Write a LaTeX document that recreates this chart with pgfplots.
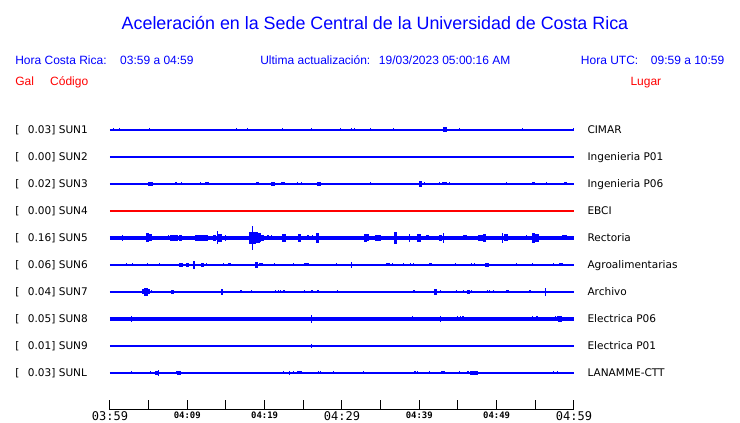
\documentclass[border=0pt]{standalone}
\usepackage{pgfplots}
\pgfplotsset{compat=1.18}
\usepackage{fontspec}
\setmainfont{Liberation Sans}
\newfontfamily\dvs{DejaVu Sans}
\newfontfamily\dvsm{DejaVu Sans Mono}

\definecolor{sblue}{rgb}{0,0,1}
\definecolor{sred}{rgb}{1,0,0}

\newcommand\tbig{\dvsm\fontsize{9}{10}\selectfont}
\newcommand\tsmall{\dvsm\bfseries\fontsize{6.7}{7}\selectfont}

\pgfplotsset{
  base/.style={sblue, line width=0.9pt, forget plot},
  spike/.style={draw=none, mark=none, forget plot,
    error bars/y dir=both, error bars/y explicit, error bars/error mark=none,
    error bars/error bar style={draw=sblue, line width=0.9pt}},
  blob/.style={spike, error bars/error bar style={draw=sblue, line width=2.4pt}},
}
\tikzset{
  lbl/.style={anchor=base west, inner sep=0pt, font=\dvs\fontsize{7.9}{9}\selectfont},
  hdr/.style={anchor=base west, inner sep=0pt, sblue, font=\fontsize{9}{10}\selectfont},
}

\begin{document}
\begin{tikzpicture}
\begin{axis}[
  scale only axis,
  width=348pt, height=307.5pt,
  xmin=0, xmax=60,
  ymin=0, ymax=410,
  axis x line*=bottom,
  axis y line=none,
  axis line style={black, line width=0.75pt},
  xtick={0,5,...,60},
  xticklabels={{\tbig 03:59},{},{\tsmall 04:09},{},{\tsmall 04:19},{},{\tbig 04:29},{},{\tsmall 04:39},{},{\tsmall 04:49},{},{\tbig 04:59}},
  tick align=inside,
  major tick length=7.5pt,
  tick style={black, line width=0.75pt},
  xticklabel style={anchor=north, inner sep=1pt},
  clip=false,
]

% page frame
\path (axis cs:-14.22,-13) rectangle (axis cs:81.47,410);

% ---- SUN1 CIMAR
\addplot[base] coordinates {(0,280) (60,280)};
\addplot[spike] coordinates {
(0.43,280) +- (0,1.5) (1.20,280) +- (0,1.5) (5.08,280) +- (0,1.5) (10.90,280) +- (0,1)
(16.33,280) +- (0,1.5) (17.75,280) +- (0,1.5) (22.28,280) +- (0,1.5) (22.93,280) +- (0,1)
(26.03,280) +- (0,1.5) (29.83,280) +- (0,1.5) (31.20,280) +- (0,1.5) (31.59,280) +- (0,1.5)
(33.66,280) +- (0,1.5) (36.63,280) +- (0,1.5) (39.09,280) +- (0,1) (45.17,280) +- (0,1.5)
(53.31,280) +- (0,1.5) (59.96,280) +- (0,1.5)
};
\addplot[blob] coordinates {(43.32,280) +- (0,2.5)};

% ---- SUN2 Ingenieria P01
\addplot[base] coordinates {(0,253) (60,253)};

% ---- SUN3 Ingenieria P06
\addplot[base] coordinates {(0,226) (60,226)};
\addplot[spike] coordinates {
(4.95,226) +- (0,1.7) (8.53,226) +- (0,1.5) (9.22,226) +- (0,1.5) (11.68,226) +- (0,1.5)
(20.78,226) +- (0,1) (22.24,226) +- (0,1.5) (22.50,226) +- (0,1.5) (24.27,226) +- (0,1.5)
(24.74,226) +- (0,1.5) (26.16,226) +- (0,1) (26.81,226) +- (0,1.7) (33.66,226) +- (0,1.5)
(37.28,226) +- (0,1) (40.64,226) +- (0,1.5) (42.63,226) +- (0,1.5) (42.97,226) +- (0,1.5)
(43.87,226) +- (0,1.5) (51.25,226) +- (0,1.5) (55.44,226) +- (0,1) (55.95,226) +- (0,1)
(56.47,226) +- (0,1.5) (59.96,226) +- (0,1)
};
\addplot[blob] coordinates {
(5.30,226) +- (0,1.7) (12.54,226) +- (0,1.5) (19.05,226) +- (0,1.5) (21.08,226) +- (0,1.7)
(25.09,226) +- (0,1.2) (27.03,226) +- (0,2.3) (40.18,226) +- (0,2.7) (43.32,226) +- (0,1.5)
(54.74,226) +- (0,1.5) (58.93,226) +- (0,1.5)
};

% ---- SUN4 EBCI
\addplot[base, sred] coordinates {(0,199) (60,199)};

% ---- SUN5 Rectoria
\addplot[base, line width=2.7pt] coordinates {(0,172) (60,172)};
\addplot[spike] coordinates {
(1.59,172) +- (0,3) (7.54,172) +- (0,2.5) (13.93,172) +- (0,6.5) (14.91,172) +- (0,3)
(18.40,172) +- (0,12.3) (20.43,172) +- (0,2.5) (20.86,172) +- (0,2.5) (25.60,172) +- (0,2.5)
(26.16,172) +- (0,2.5) (38.70,172) +- (0,4) (43.15,172) +- (0,5) (50.78,172) +- (0,5.3)
(53.83,172) +- (0,2.5) (57.32,172) +- (0,2) (58.10,172) +- (0,2)
};
\addplot[blob] coordinates {
(4.87,172) +- (0,4.5) (5.21,172) +- (0,3.5) (8.02,172) +- (0,3) (8.53,172) +- (0,3)
(9.09,172) +- (0,3) (11.25,172) +- (0,3) (11.64,172) +- (0,3) (12.16,172) +- (0,3)
(12.50,172) +- (0,3) (13.54,172) +- (0,3) (14.22,172) +- (0,4) (18.23,172) +- (0,6)
(18.62,172) +- (0,6) (18.88,172) +- (0,5.5) (19.14,172) +- (0,5) (19.31,172) +- (0,4.5)
(19.66,172) +- (0,3) (22.50,172) +- (0,3.7) (24.53,172) +- (0,4) (26.86,172) +- (0,5)
(33.06,172) +- (0,4.3) (33.32,172) +- (0,3.5) (34.53,172) +- (0,3) (34.85,172) +- (0,3)
(36.94,172) +- (0,6) (39.96,172) +- (0,3.7) (41.08,172) +- (0,2.5) (42.76,172) +- (0,3)
(45.91,172) +- (0,2.5) (47.84,172) +- (0,3) (48.10,172) +- (0,3) (48.45,172) +- (0,3.7)
(51.21,172) +- (0,3.5) (54.79,172) +- (0,5) (55.22,172) +- (0,4) (58.64,172) +- (0,2.5)
(58.90,172) +- (0,2.5)
};

% ---- SUN6 Agroalimentarias
\addplot[base] coordinates {(0,145) (60,145)};
\addplot[spike] coordinates {
(2.16,145) +- (0,1.5) (2.94,145) +- (0,1.5) (4.82,145) +- (0,1.5) (5.39,145) +- (0,1.2)
(6.38,145) +- (0,1.5) (9.35,145) +- (0,1.5) (10.86,145) +- (0,4.3) (12.50,145) +- (0,1.5)
(14.65,145) +- (0,1.5) (17.37,145) +- (0,1) (21.30,145) +- (0,1.5) (23.70,145) +- (0,1.5)
(25.60,145) +- (0,1.5) (26.94,145) +- (0,1) (29.31,145) +- (0,1.5) (31.25,145) +- (0,2.7)
(36.50,145) +- (0,1.5) (37.93,145) +- (0,1.5) (38.83,145) +- (0,1.5) (39.22,145) +- (0,1.5)
(44.65,145) +- (0,1.5) (46.77,145) +- (0,1.5) (47.11,145) +- (0,1.5) (52.07,145) +- (0,1)
(52.54,145) +- (0,1.5) (54.61,145) +- (0,1.5) (57.32,145) +- (0,1.5)
};
\addplot[blob] coordinates {
(0.52,145) +- (0,1.2) (1.59,145) +- (0,1.2) (1.72,145) +- (0,1.2) (7.11,145) +- (0,1.2)
(9.18,145) +- (0,2) (10.00,145) +- (0,2) (11.99,145) +- (0,2.3) (15.48,145) +- (0,1.5)
(18.92,145) +- (0,2.7) (19.53,145) +- (0,1.5) (25.25,145) +- (0,1.5) (35.95,145) +- (0,1.5)
(41.47,145) +- (0,1.5) (48.75,145) +- (0,2) (58.32,145) +- (0,1.5)
};

% ---- SUN7 Archivo
\addplot[base] coordinates {(0,118) (60,118)};
\addplot[spike] coordinates {
(5.34,118) +- (0,1.5) (12.80,118) +- (0,1) (13.84,118) +- (0,1) (14.48,118) +- (0,3)
(16.94,118) +- (0,1.5) (18.27,118) +- (0,1.5) (19.66,118) +- (0,1) (21.38,118) +- (0,1.5)
(21.81,118) +- (0,1.5) (22.07,118) +- (0,1.5) (22.50,118) +- (0,1.5) (25.18,118) +- (0,1.5)
(26.12,118) +- (0,1.5) (26.90,118) +- (0,1.5) (29.44,118) +- (0,1.5) (31.59,118) +- (0,1)
(34.69,118) +- (0,1) (39.31,118) +- (0,1.5) (40.95,118) +- (0,1) (42.71,118) +- (0,1.5)
(44.83,118) +- (0,1.5) (45.74,118) +- (0,1.5) (46.72,118) +- (0,1.5) (47.81,118) +- (0,1)
(48.79,118) +- (0,1.5) (49.05,118) +- (0,1.5) (49.62,118) +- (0,1.5) (50.47,118) +- (0,1)
(53.70,118) +- (0,1) (54.31,118) +- (0,1.5) (56.29,118) +- (0,3.7)
};
\addplot[blob] coordinates {
(0.26,118) +- (0,1.3) (0.58,118) +- (0,1.3) (2.13,118) +- (0,1.3) (2.42,118) +- (0,1.3)
(3.01,118) +- (0,0.8) (4.40,118) +- (0,2.5) (4.66,118) +- (0,3.7) (4.91,118) +- (0,2.5)
(8.06,118) +- (0,2.3) (10.41,118) +- (0,1.3) (10.67,118) +- (0,1.3) (10.99,118) +- (0,1.3)
(11.47,118) +- (0,1.3) (12.03,118) +- (0,1.3) (14.57,118) +- (0,1.3) (15.26,118) +- (0,1.3)
(17.16,118) +- (0,1.3) (23.21,118) +- (0,1.3) (23.53,118) +- (0,1.3) (23.86,118) +- (0,1.3)
(24.18,118) +- (0,1.3) (28.12,118) +- (0,1.3) (28.45,118) +- (0,1.3) (33.53,118) +- (0,1.3)
(37.18,118) +- (0,1.3) (37.50,118) +- (0,1.3) (38.41,118) +- (0,1.3) (39.01,118) +- (0,1.3)
(40.22,118) +- (0,1.3) (42.12,118) +- (0,3) (43.23,118) +- (0,1.3) (43.75,118) +- (0,1.3)
(44.29,118) +- (0,1.3) (44.68,118) +- (0,1.3) (46.38,118) +- (0,2.3) (50.00,118) +- (0,1.3)
(51.37,118) +- (0,1.5) (52.05,118) +- (0,1.3) (52.37,118) +- (0,1.3) (52.72,118) +- (0,1.3)
(54.74,118) +- (0,1.3) (59.09,118) +- (0,1.3) (59.42,118) +- (0,1.3) (59.74,118) +- (0,1.3)
};

% ---- SUN8 Electrica P06
\addplot[base, line width=2.5pt] coordinates {(0,91) (60,91)};
\addplot[spike] coordinates {
(2.75,91) +- (0,3) (26.03,91) +- (0,4) (39.09,91) +- (0,2.5) (42.71,91) +- (0,2.8)
(44.96,91) +- (0,2.5) (45.30,91) +- (0,2.5) (45.65,91) +- (0,2.5) (54.66,91) +- (0,2.5)
(55.22,91) +- (0,2.5) (57.58,91) +- (0,2.5)
};
\addplot[blob] coordinates {(58.00,91) +- (0,2.5) (58.19,91) +- (0,3.3)};

% ---- SUN9 Electrica P01
\addplot[base] coordinates {(0,64) (60,64)};
\addplot[spike] coordinates {(26.03,64) +- (0,1.7)};

% ---- SUNL LANAMME-CTT
\addplot[base] coordinates {(0,37) (60,37)};
\addplot[spike] coordinates {
(2.75,37) +- (0,1.5) (5.21,37) +- (0,1.5) (6.25,37) +- (0,2.7) (8.06,37) +- (0,1)
(8.57,37) +- (0,1.5) (11.08,37) +- (0,1) (18.53,37) +- (0,1) (21.38,37) +- (0,1)
(22.41,37) +- (0,1.5) (23.19,37) +- (0,2) (23.75,37) +- (0,1.5) (26.99,37) +- (0,1.5)
(27.25,37) +- (0,1.5) (28.88,37) +- (0,1.5) (32.75,37) +- (0,1.5) (33.40,37) +- (0,1)
(35.60,37) +- (0,1) (39.44,37) +- (0,1.5) (39.79,37) +- (0,1.5) (41.34,37) +- (0,1.5)
(44.13,37) +- (0,1) (45.17,37) +- (0,1.5) (45.48,37) +- (0,1) (46.29,37) +- (0,1.5)
(48.53,37) +- (0,1) (49.69,37) +- (0,1) (56.60,37) +- (0,1) (57.32,37) +- (0,1.5)
(57.89,37) +- (0,1.5) (58.45,37) +- (0,1)
};
\addplot[blob] coordinates {
(3.84,37) +- (0,1.3) (6.08,37) +- (0,2) (8.92,37) +- (0,2) (10.09,37) +- (0,1.3)
(11.51,37) +- (0,1.3) (19.75,37) +- (0,1.3) (24.40,37) +- (0,1.5) (24.66,37) +- (0,1.5)
(32.20,37) +- (0,1.3) (43.06,37) +- (0,1.5) (46.75,37) +- (0,2) (47.07,37) +- (0,2)
(47.39,37) +- (0,2) (56.29,37) +- (0,1.3)
};

% ---- header
\node[anchor=base, inner sep=0pt, sblue, font=\fontsize{13.4}{16}\selectfont]
  at (axis cs:34.27,380.7) {Aceleración en la Sede Central de la Universidad de Costa Rica};
\node[hdr] at (axis cs:-12.28,345) {Hora Costa Rica:};
\node[hdr] at (axis cs:1.29,345) {03:59 a 04:59};
\node[hdr] at (axis cs:19.40,345) {Ultima actualización:\hspace{6.5pt}19/03/2023 05:00:16 AM};
\node[hdr] at (axis cs:60.87,345) {Hora UTC:};
\node[hdr] at (axis cs:69.92,345) {09:59 a 10:59};
\node[hdr, sred] at (axis cs:-12.28,324.5) {Gal};
\node[hdr, sred] at (axis cs:-7.76,324.5) {Código};
\node[hdr, sred] at (axis cs:67.28,324.5) {Lugar};

% ---- channel labels
\node[lbl] at (axis cs:-12.28,276) {[}; \node[lbl] at (axis cs:-10.64,276) {0.03] SUN1};
\node[lbl] at (axis cs:-12.28,249) {[}; \node[lbl] at (axis cs:-10.64,249) {0.00] SUN2};
\node[lbl] at (axis cs:-12.28,222) {[}; \node[lbl] at (axis cs:-10.64,222) {0.02] SUN3};
\node[lbl] at (axis cs:-12.28,195) {[}; \node[lbl] at (axis cs:-10.64,195) {0.00] SUN4};
\node[lbl] at (axis cs:-12.28,168) {[}; \node[lbl] at (axis cs:-10.64,168) {0.16] SUN5};
\node[lbl] at (axis cs:-12.28,141) {[}; \node[lbl] at (axis cs:-10.64,141) {0.06] SUN6};
\node[lbl] at (axis cs:-12.28,114) {[}; \node[lbl] at (axis cs:-10.64,114) {0.04] SUN7};
\node[lbl] at (axis cs:-12.28,87) {[}; \node[lbl] at (axis cs:-10.64,87) {0.05] SUN8};
\node[lbl] at (axis cs:-12.28,60) {[}; \node[lbl] at (axis cs:-10.64,60) {0.01] SUN9};
\node[lbl] at (axis cs:-12.28,33) {[}; \node[lbl] at (axis cs:-10.64,33) {0.03] SUNL};

\node[lbl] at (axis cs:61.72,276) {CIMAR};
\node[lbl] at (axis cs:61.72,249) {Ingenieria P01};
\node[lbl] at (axis cs:61.72,222) {Ingenieria P06};
\node[lbl] at (axis cs:61.72,195) {EBCI};
\node[lbl] at (axis cs:61.72,168) {Rectoria};
\node[lbl] at (axis cs:61.72,141) {Agroalimentarias};
\node[lbl] at (axis cs:61.72,114) {Archivo};
\node[lbl] at (axis cs:61.72,87) {Electrica P06};
\node[lbl] at (axis cs:61.72,60) {Electrica P01};
\node[lbl] at (axis cs:61.72,33) {LANAMME-CTT};
\end{axis}
\end{tikzpicture}
\end{document}
